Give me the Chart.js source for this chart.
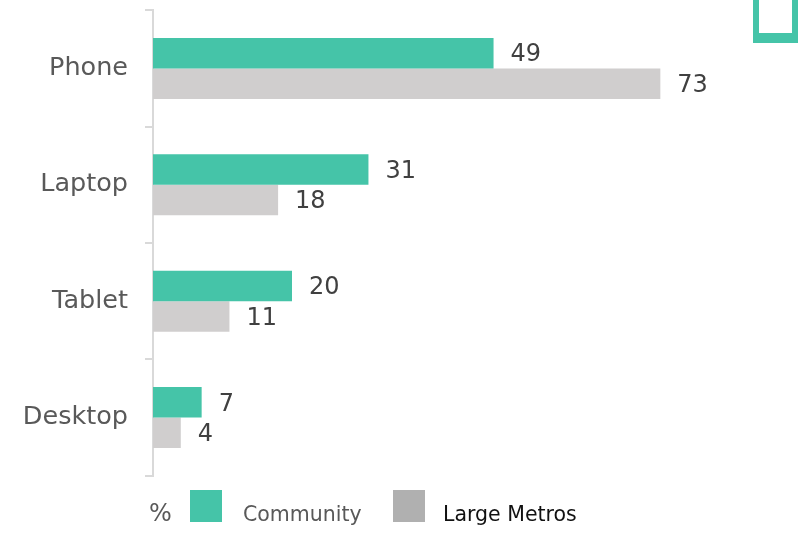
<!DOCTYPE html>
<html>
<head>
<meta charset="utf-8">
<script src="https://cdn.jsdelivr.net/npm/chart.js@4.4.0/dist/chart.umd.min.js"></script>
<style>
  body { margin: 0; background: #fff; font-family: 'DejaVu Sans', sans-serif; }
  #wrap { position: relative; width: 812px; height: 534px; overflow: hidden; }
  #chartBox { position: absolute; left: 0; top: -22px; width: 812px; height: 530px; }
  .deco { position: absolute; left: 753px; top: -20px; width: 33px; height: 53px; border-style: solid; border-color: #45c4a8; border-width: 0 6px 10px 6px; }
  .legend { position: absolute; top: 490px; left: 0; height: 34px; font-size: 20.5px; color: #595959; }
  .legend span { position: absolute; white-space: nowrap; top: 12px; }
  .legend i { position: absolute; top: 0; width: 32px; height: 32px; display: block; }
</style>
</head>
<body>
<div id="wrap">
  <div id="chartBox"><canvas id="devChart"></canvas></div>
  <div class="deco"></div>
  <div class="legend">
    <span style="left:149px;top:9px;font-size:24px;">%</span>
    <i style="left:190px;background:#45c4a8;"></i>
    <span style="left:243px;">Community</span>
    <i style="left:393px;background:#b0b0b0;"></i>
    <span style="left:443px;color:#111;">Large Metros</span>
  </div>
</div>
<script>
const categories = ['Phone', 'Laptop', 'Tablet', 'Desktop'];
const communityValues = [49, 31, 20, 7];
const metroValues = [73, 18, 11, 4];

const greenColor = '#45c4a8';
const grayColor = '#d0cece';

// draws the value next to each bar end
const valueLabels = {
  id: 'valueLabels',
  afterDatasetsDraw(chart) {
    const ctx = chart.ctx;
    ctx.save();
    ctx.font = '24px "DejaVu Sans", sans-serif';
    ctx.fillStyle = '#404040';
    ctx.textAlign = 'left';
    ctx.textBaseline = 'middle';
    chart.data.datasets.forEach((ds, i) => {
      chart.getDatasetMeta(i).data.forEach((bar, j) => {
        ctx.fillText(ds.data[j], bar.x + 17, bar.y + 2);
      });
    });
    ctx.restore();
  }
};

new Chart(document.getElementById('devChart'), {
  type: 'bar',
  data: {
    labels: categories,
    datasets: [
      { label: 'Community', data: communityValues, backgroundColor: greenColor, categoryPercentage: 0.524, barPercentage: 1 },
      { label: 'Large Metros', data: metroValues, backgroundColor: grayColor, categoryPercentage: 0.524, barPercentage: 1 }
    ]
  },
  options: {
    indexAxis: 'y',
    responsive: true,
    maintainAspectRatio: false,
    animation: false,
    layout: { padding: { top: 10, right: 103, bottom: 4, left: 0 } },
    plugins: {
      legend: { display: false },
      tooltip: { enabled: false }
    },
    scales: {
      x: { display: false, min: 0, max: 80 },
      y: {
        afterFit: (scale) => { scale.width = 153; },
        grid: { display: true, drawOnChartArea: false, offset: true, tickLength: 8, color: '#d9d9d9', lineWidth: 2 },
        border: { display: true, color: '#d9d9d9', width: 2 },
        ticks: { padding: 17, color: '#595959', font: { family: 'DejaVu Sans', size: 25.5 } }
      }
    }
  },
  plugins: [valueLabels]
});
</script>
</body>
</html>
